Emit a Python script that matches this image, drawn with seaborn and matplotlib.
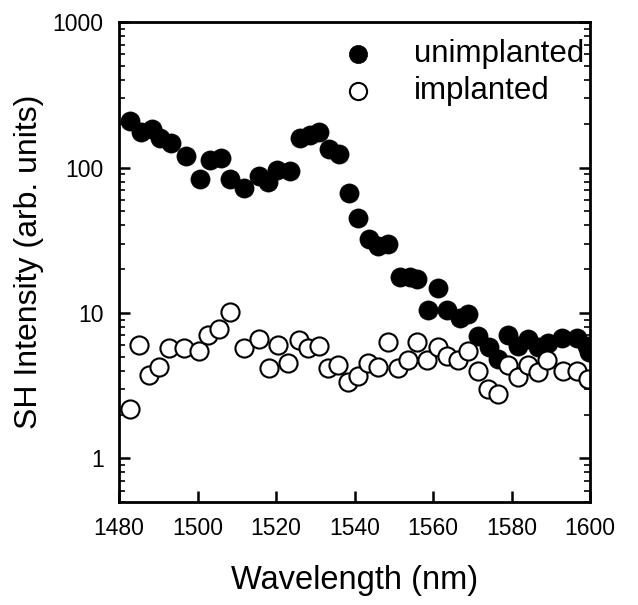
import seaborn as sns
import matplotlib.pyplot as plt
from matplotlib.ticker import FixedLocator, LogLocator, NullFormatter, MultipleLocator

# unimplanted (filled)
wl_u = [1482.7, 1485.5, 1488.3, 1490.4, 1493.2, 1497.0, 1500.6, 1503.1, 1505.9, 1508.2,
        1511.8, 1515.6, 1517.9, 1520.2, 1523.5, 1526.0, 1528.6, 1531.0, 1533.4, 1536.0,
        1538.5, 1541.0, 1543.6, 1545.9, 1548.4, 1551.5, 1554.0, 1556.0, 1558.7, 1561.2,
        1563.6, 1566.8, 1569.0, 1571.5, 1574.2, 1576.6, 1579.1, 1581.6, 1584.1, 1586.7,
        1589.2, 1592.8, 1596.6, 1599.1, 1599.8]
int_u = [209, 176, 184, 159, 147, 120, 83, 113, 116, 83,
         72, 87, 80, 96, 95, 159, 168, 176, 134, 124,
         67, 45, 32, 29, 30, 17.7, 17.7, 17.2, 10.5, 14.9,
         10.5, 9.3, 9.9, 6.9, 5.8, 4.85, 7.1, 5.9, 6.6, 5.8,
         6.2, 6.75, 6.75, 5.9, 5.4]

# implanted (open)
wl_i = [1482.7, 1485.0, 1487.6, 1490.1, 1492.7, 1496.5, 1500.3, 1502.6, 1505.4, 1508.2,
        1511.8, 1515.6, 1518.3, 1520.6, 1523.0, 1525.8, 1528.1, 1530.9, 1533.2, 1535.8,
        1538.3, 1540.8, 1543.4, 1545.9, 1548.4, 1551.0, 1553.5, 1556.0, 1558.4, 1561.2,
        1563.5, 1566.3, 1568.9, 1571.4, 1573.9, 1576.5, 1579.2, 1581.5, 1584.1, 1586.6,
        1588.9, 1593.0, 1596.6, 1599.4]
int_i = [2.17, 6.0, 3.77, 4.28, 5.77, 5.7, 5.5, 7.0, 7.7, 10.2,
         5.77, 6.6, 4.2, 6.0, 4.5, 6.55, 5.77, 5.96, 4.2, 4.4,
         3.37, 3.7, 4.55, 4.28, 6.35, 4.15, 4.78, 6.35, 4.78, 5.87,
         5.05, 4.77, 5.5, 4.0, 3.0, 2.75, 4.4, 3.6, 4.4, 3.95,
         4.77, 4.0, 4.0, 3.5]

sns.set_style('ticks')
plt.rcParams['font.family'] = ['Liberation Sans', 'DejaVu Sans']
plt.rcParams['text.color'] = 'black'
plt.rcParams['axes.labelcolor'] = 'black'

fig = plt.figure(figsize=(6.38, 6.05), dpi=100)
ax = fig.add_axes([0.1865, 0.170, 0.7385, 0.7935])

sns.scatterplot(x=wl_u, y=int_u, ax=ax, s=190, color='black', edgecolor='black',
                linewidth=0.5, label='unimplanted')
sns.scatterplot(x=wl_i, y=int_i, ax=ax, s=170, facecolor='white', edgecolor='black',
                linewidth=1.5, label='implanted')

ax.set_yscale('log')
ax.set_xlim(1480, 1600)
ax.set_ylim(0.5, 1000)
ax.xaxis.set_major_locator(MultipleLocator(20))
ax.yaxis.set_major_locator(FixedLocator([1, 10, 100, 1000]))
ax.yaxis.set_minor_locator(LogLocator(base=10, subs=range(2, 10)))
ax.yaxis.set_minor_formatter(NullFormatter())
ax.set_yticklabels(['1', '10', '100', '1000'])

for s in ax.spines.values():
    s.set_linewidth(2)
    s.set_color('black')
ax.tick_params(axis='both', which='major', direction='in', length=8, width=1.8,
               labelsize=16.5, colors='black', pad=11)
ax.tick_params(axis='y', which='minor', direction='in', length=4, width=1.2, colors='black')
ax.tick_params(axis='y', which='both', right=True)
ax.tick_params(axis='x', which='both', top=False)

ax.set_xlabel('Wavelength (nm)', fontsize=23.5, labelpad=18, color='black')
ax.set_ylabel('SH Intensity (arb. units)', fontsize=23, labelpad=6, color='black')

leg = ax.legend(loc='upper right', bbox_to_anchor=(1.021, 0.997), frameon=False,
                fontsize=22.5, markerscale=0.95, handletextpad=0.8,
                borderaxespad=0.1, labelspacing=0.22)
for t in leg.get_texts():
    t.set_color('black')

fig.savefig('out.png', dpi=100)
